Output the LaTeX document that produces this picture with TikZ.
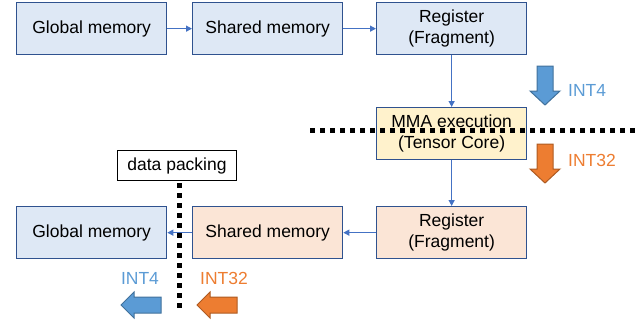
\documentclass[tikz,border=0pt]{standalone}
\usepackage{fontspec}
\setmainfont{Liberation Sans}
\definecolor{boxblue}{HTML}{DEE8F5}
\definecolor{boxorange}{HTML}{FBE5D6}
\definecolor{boxyellow}{HTML}{FFF2CC}
\definecolor{edge}{HTML}{2F528F}
\definecolor{conn}{HTML}{4472C4}
\definecolor{arrblue}{HTML}{5B9BD5}
\definecolor{arrblueedge}{HTML}{41719C}
\definecolor{arrorange}{HTML}{ED7D31}
\definecolor{arrorangeedge}{HTML}{AE5A21}
\usetikzlibrary{arrows.meta}
\begin{document}
\begin{tikzpicture}[x=1pt,y=-1pt,
  every node/.style={font=\fontsize{17.5}{21}\selectfont},
  membox/.style={draw=edge,line width=1.3pt,minimum width=150pt,minimum height=52pt,inner sep=0pt,align=center,anchor=north west},
  conn/.style={draw=conn,line width=1.2pt,-{Triangle[length=6pt,width=6pt]}},
  dotline/.style={line width=5pt,dash pattern=on 5pt off 5pt},
  blk/.style={line width=1pt,line join=miter}]
\useasboundingbox (0,0) rectangle (637,324);
% top row
\node[membox,fill=boxblue] (g1) at (16,2) {Global memory};
\node[membox,fill=boxblue] (s1) at (192,2) {Shared memory};
\node[membox,fill=boxblue] (r1) at (376,2) {Register\\(Fragment)};
\node[membox,fill=boxyellow] (mma) at (376,107) {MMA execution\\(Tensor Core)};
% bottom row
\node[membox,fill=boxorange] (r2) at (376,206) {Register\\(Fragment)};
\node[membox,fill=boxorange] (s2) at (192,206) {Shared memory};
\node[membox,fill=boxblue] (g2) at (16,206) {Global memory};
\node[draw=black,line width=1pt,minimum width=119pt,minimum height=30pt,inner sep=0pt,anchor=north west] (dp) at (117,150) {data packing};
% connectors
\draw[conn] (g1) -- (s1);
\draw[conn] (s1) -- (r1);
\draw[conn] (r1) -- (mma);
\draw[conn] (mma) -- (r2);
\draw[conn] (r2) -- (s2);
\draw[conn] (s2) -- (g2);
% dotted separators
\coordinate (hl) at (310,130);
\coordinate (hr) at (640,130);
\draw[dotline] (hl) -- (hr);
\coordinate (vt) at (179,183);
\coordinate (vb) at (179,310);
\draw[dotline] (vt) -- (vb);
% block arrows
\draw[blk,fill=arrblue,draw=arrblueedge] (537,66) -- (553,66) -- (553,91) -- (560,91) -- (545,105) -- (530,91) -- (537,91) -- cycle;
\draw[blk,fill=arrorange,draw=arrorangeedge] (537,144) -- (553,144) -- (553,169) -- (560,169) -- (545,183) -- (530,169) -- (537,169) -- cycle;
\draw[blk,fill=arrblue,draw=arrblueedge] (161,297) -- (161,313) -- (134,313) -- (134,318) -- (121,305) -- (134,292) -- (134,297) -- cycle;
\draw[blk,fill=arrorange,draw=arrorangeedge] (237,297) -- (237,313) -- (210,313) -- (210,318) -- (197,305) -- (210,292) -- (210,297) -- cycle;
% labels
\node[text=arrblue,anchor=west,inner sep=0pt] (t1) at (568,90) {INT4};
\node[text=arrorange,anchor=west,inner sep=0pt] (t2) at (568,160) {INT32};
\node[text=arrblue,inner sep=0pt] (t3) at (140,278) {INT4};
\node[text=arrorange,inner sep=0pt] (t4) at (224,278) {INT32};
\end{tikzpicture}
\end{document}
